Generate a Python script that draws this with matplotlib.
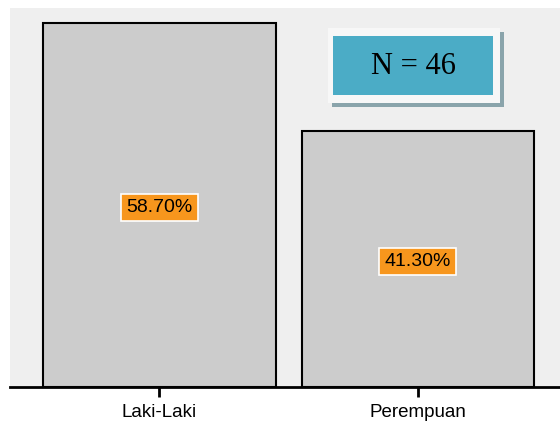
import matplotlib.pyplot as plt
from matplotlib.patches import Rectangle

categories = ["Laki-Laki", "Perempuan"]
percentages = [58.70, 41.30]
n_total = 46

fig = plt.figure(figsize=(5.6, 4.25), dpi=100)
ax = fig.add_axes([10 / 560, 38 / 425, 550 / 560, 379 / 425])
ax.set_facecolor("#efefef")

x = list(range(len(categories)))
ax.bar(x, percentages, width=0.9, color="#cccccc", edgecolor="black", linewidth=1.5)

for xi, p in zip(x, percentages):
    ax.text(xi, p / 2 - 0.4, f"{p:.2f}%", ha="center", va="center",
            fontsize=14, family="Liberation Sans", color="black",
            bbox=dict(boxstyle="square,pad=0.27", facecolor="#f7961d",
                      edgecolor="white", linewidth=1.2))

ax.set_xlim(-0.578, 1.55)
ax.set_ylim(0, max(percentages) * 1.04)
ax.set_xticks(x)
ax.set_xticklabels(categories, fontsize=13.5, family="Liberation Sans")
ax.set_yticks([])
for s in ["top", "right", "left"]:
    ax.spines[s].set_visible(False)
ax.spines["bottom"].set_linewidth(2)
ax.tick_params(axis="x", length=7, width=2, pad=5)

# kotak N
def px(xp, yp):
    return ((xp - 10) / 550, (387 - yp) / 379)

sx, sy = px(332, 107)
ax.add_patch(Rectangle((sx, sy), 172 / 550, 75 / 379, transform=ax.transAxes,
                       facecolor="#8aa4ab", edgecolor="none", zorder=5))
wx, wy = px(328, 103)
ax.add_patch(Rectangle((wx, wy), 172 / 550, 75 / 379, transform=ax.transAxes,
                       facecolor="#f7f7f7", edgecolor="none", zorder=6))
bx, by = px(333, 95)
ax.add_patch(Rectangle((bx, by), 160 / 550, 59 / 379, transform=ax.transAxes,
                       facecolor="#4bacc6", edgecolor="none", zorder=7))
cx, cy = px(413, 66)
ax.text(cx, cy, f"N = {n_total}", transform=ax.transAxes, ha="center", va="center",
        fontsize=22, family="Liberation Serif", color="black", zorder=8)

fig.savefig("out.png", dpi=100, facecolor="white")
